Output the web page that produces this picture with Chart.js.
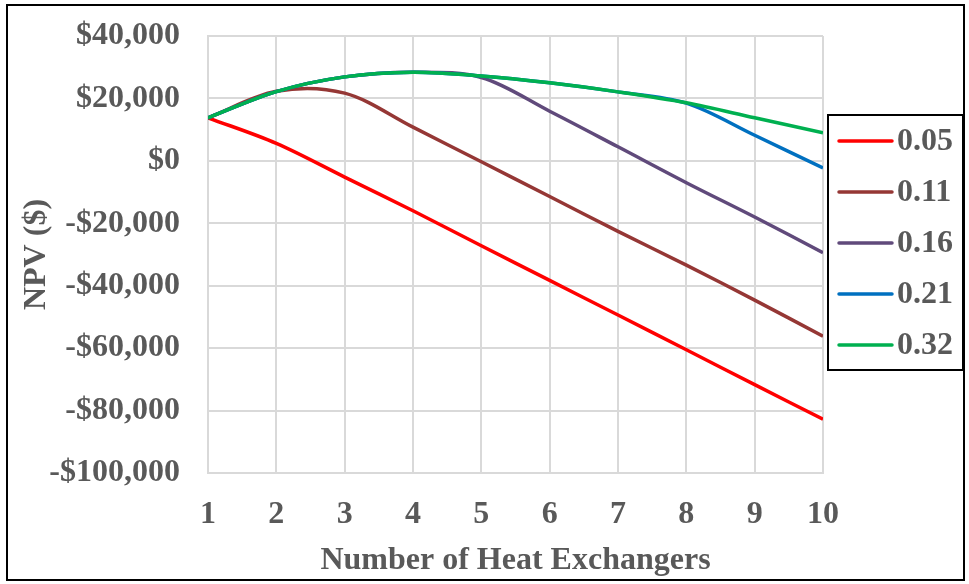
<!DOCTYPE html>
<html>
<head>
<meta charset="utf-8">
<script src="https://cdn.jsdelivr.net/npm/chart.js@4.4.1/dist/chart.umd.min.js"></script>
<style>
  html, body { margin: 0; padding: 0; background: #ffffff; }
  #wrap { width: 969px; height: 584px; position: relative; }
</style>
</head>
<body>
<div id="wrap"><canvas id="npv"></canvas></div>
<script>
// Number of heat exchangers (x axis)
const exchangers = [1, 2, 3, 4, 5, 6, 7, 8, 9, 10];

// NPV ($) for each series label
const seriesLabels = ['0.05', '0.11', '0.16', '0.21', '0.32'];
const npv005 = [13800, 5600, -5200, -16000, -27200, -38300, -49400, -60500, -71700, -82800];
const npv011 = [13800, 22300, 21700, 10800, -300, -11400, -22600, -33400, -44600, -56200];
const npv016 = [13800, 22200, 26900, 28400, 26700, 15900, 4500, -7000, -18000, -29400];
const npv021 = [13800, 22200, 26900, 28400, 27200, 25000, 22100, 18500, 8200, -2300];
const npv032 = [13800, 22200, 26900, 28400, 27200, 25000, 22100, 18600, 13800, 9000];

// Value axis ticks
const yTicks = [-100000, -80000, -60000, -40000, -20000, 0, 20000, 40000];

const seriesValues = [npv005, npv011, npv016, npv021, npv032];
const seriesColors = ['#FF0000', '#953735', '#604A7B', '#0070C0', '#00B050'];

const FONT = '"Liberation Serif", "Times New Roman", serif';
const TEXT = '#595959';
const FSIZE = 32;

function money(v) {
  const s = Math.abs(v).toLocaleString('en-US');
  return (v < 0 ? '-$' : '$') + s;
}

// Border around the whole figure plus a boxed legend at the right of the plot
const frameAndLegend = {
  id: 'frameAndLegend',
  afterDraw(chart) {
    const ctx = chart.ctx;
    ctx.save();
    ctx.strokeStyle = '#000000';
    ctx.lineWidth = 2;
    ctx.strokeRect(7, 5, 957, 575);

    const area = chart.chartArea;
    const bx = area.right + 5, by = 115, bw = 135, bh = 255;
    ctx.fillStyle = '#ffffff';
    ctx.fillRect(bx, by, bw, bh);
    ctx.lineWidth = 2;
    ctx.strokeRect(bx, by, bw, bh);

    ctx.font = 'bold ' + FSIZE + 'px ' + FONT;
    ctx.textBaseline = 'middle';
    ctx.textAlign = 'left';
    chart.data.datasets.forEach((ds, i) => {
      const y = by + 26 + i * 51;
      ctx.strokeStyle = ds.borderColor;
      ctx.lineWidth = 3.5;
      ctx.lineCap = 'round';
      ctx.beginPath();
      ctx.moveTo(bx + 11, y);
      ctx.lineTo(bx + 64, y);
      ctx.stroke();
      ctx.fillStyle = TEXT;
      ctx.fillText(ds.label, bx + 69, y + 1);
    });
    ctx.restore();
  }
};

new Chart(document.getElementById('npv'), {
  type: 'line',
  data: {
    labels: exchangers,
    datasets: seriesLabels.map((lab, i) => ({
      label: lab,
      data: seriesValues[i],
      borderColor: seriesColors[i],
      backgroundColor: seriesColors[i],
      borderWidth: 3.5,
      pointRadius: 0,
      tension: 0.33,
      fill: false,
      order: seriesLabels.length - i
    }))
  },
  options: {
    responsive: true,
    maintainAspectRatio: false,
    animation: false,
    devicePixelRatio: 1,
    layout: { padding: { left: 14, right: 146, top: 36, bottom: 4 } },
    plugins: {
      legend: { display: false },
      tooltip: { enabled: false }
    },
    scales: {
      x: {
        type: 'linear',
        min: 1,
        max: 10,
        afterBuildTicks(scale) { scale.ticks = exchangers.map(v => ({ value: v })); },
        afterFit(scale) { scale.height = 107; },
        grid: { color: '#D9D9D9', lineWidth: 2, drawTicks: false },
        border: { color: '#D9D9D9', width: 2 },
        ticks: {
          color: TEXT,
          font: { family: FONT, size: FSIZE, weight: 'bold' },
          padding: 23,
          maxRotation: 0
        },
        title: {
          display: true,
          text: 'Number of Heat Exchangers',
          color: TEXT,
          font: { family: FONT, size: FSIZE, weight: 'bold' },
          padding: { top: 0, bottom: 0 }
        }
      },
      y: {
        min: -100000,
        max: 40000,
        afterBuildTicks(scale) { scale.ticks = yTicks.map(v => ({ value: v })); },
        afterFit(scale) {
          scale.width = 194;
          // keep the horizontal label gap from inflating the vertical room
          scale.paddingTop = 16;
          scale.paddingBottom = 16;
        },
        grid: { color: '#D9D9D9', lineWidth: 2, drawTicks: false },
        border: { color: '#D9D9D9', width: 2 },
        ticks: {
          color: TEXT,
          font: { family: FONT, size: FSIZE, weight: 'bold' },
          padding: 28,
          callback: v => money(v)
        },
        title: {
          display: true,
          text: 'NPV ($)',
          color: TEXT,
          font: { family: FONT, size: FSIZE, weight: 'bold' },
          padding: { top: 4, bottom: 0 }
        }
      }
    }
  },
  plugins: [frameAndLegend]
});
</script>
</body>
</html>
